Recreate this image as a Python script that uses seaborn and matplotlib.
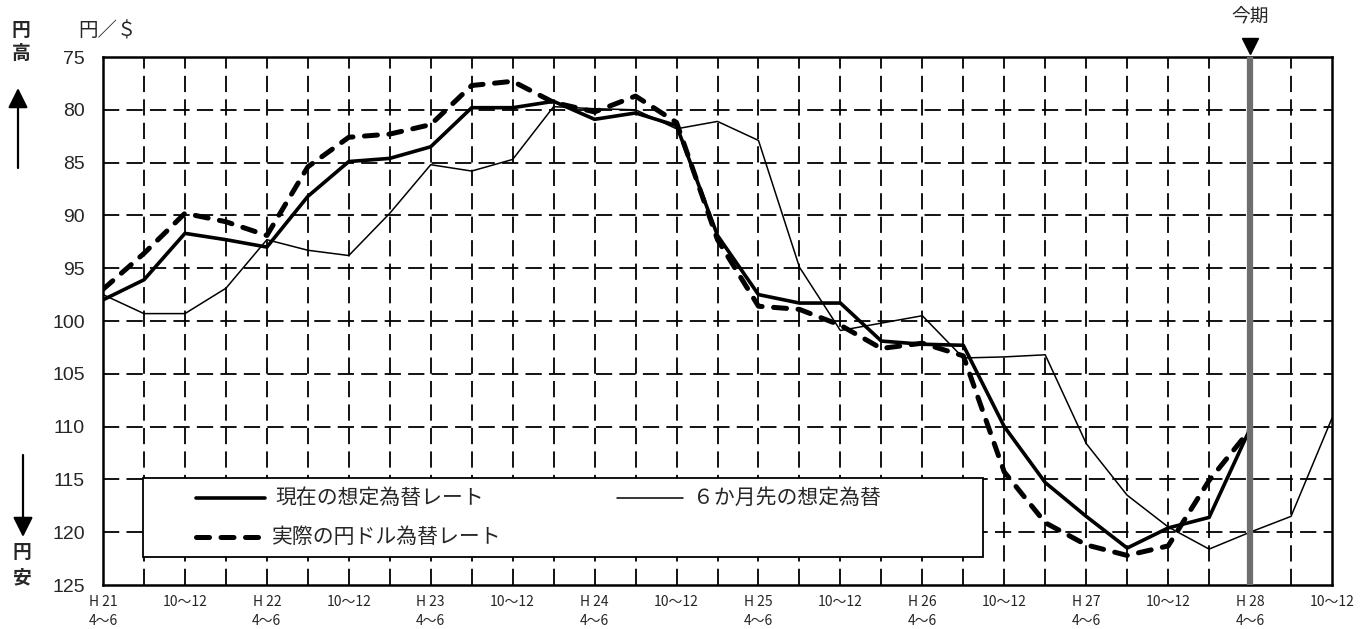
import numpy as np
import pandas as pd
import matplotlib
matplotlib.use("Agg")
import matplotlib.pyplot as plt
from matplotlib.patches import Rectangle, FancyArrowPatch
import seaborn as sns

sns.set_style("white")
plt.rcParams['font.family'] = ['Noto Sans CJK JP', 'DejaVu Sans']

# quarters H21 4~6 .. H28 10~12
quarters = list(range(31))
tick_pos = list(range(0, 31, 2))
tick_labels = []
for k, p in enumerate(tick_pos):
    if k % 2 == 0:
        tick_labels.append("H %d\n4～6" % (21 + k // 2))
    else:
        tick_labels.append("10～12")

# 現在の想定為替レート
current = [98.0, 96.1, 91.7, 92.3, 93.0, 88.2, 84.9, 84.6, 83.5, 79.8,
           79.8, 79.2, 80.9, 80.3, 81.5, 91.9, 97.5, 98.3, 98.3, 101.9,
           102.2, 102.3, 110.0, 115.3, 118.5, 121.5, 119.6, 118.6, 110.2]
# 実際の円ドル為替レート
actual = [97.0, 93.6, 89.8, 90.6, 91.9, 85.4, 82.6, 82.3, 81.4, 77.7,
          77.3, 79.3, 80.2, 78.7, 81.2, 92.3, 98.6, 98.9, 100.4, 102.6,
          102.1, 103.3, 114.3, 119.1, 121.2, 122.2, 121.3, 115.1, 110.3]
# ６か月先の想定為替
ahead = [97.5, 99.3, 99.3, 96.9, 92.3, 93.3, 93.8, 89.8, 85.2, 85.8,
         84.7, 79.7, 79.9, 80.0, 81.8, 81.1, 82.9, 94.9, 100.9, 100.2,
         99.5, 103.5, 103.4, 103.2, 111.6, 116.5, 119.5, 121.6, 120.0,
         118.5, 109.2]
current_idx = 28

lab_cur = "現在の想定為替レート"
lab_act = "実際の円ドル為替レート"
lab_ahd = "６か月先の想定為替"

df_cur = pd.DataFrame({"q": quarters[:len(current)], "v": current})
df_act = pd.DataFrame({"q": quarters[:len(actual)], "v": actual})
df_ahd = pd.DataFrame({"q": quarters[:len(ahead)], "v": ahead})

W, H = 1370, 629
fig = plt.figure(figsize=(13.7, 6.29), dpi=100)
ax = fig.add_axes([103/W, 1-585/H, 1229/W, 528/H])

def P(px, py):
    # pixel position -> axes fraction
    return (px - 103) / 1229, (585 - py) / 528

sty_ahd = dict(color="black", lw=1.1)
sty_cur = dict(color="black", lw=2.6)
sty_act = dict(color="black", lw=3.6, linestyle=(0, (2.6, 2.3)),
               dash_capstyle="round")

sns.lineplot(data=df_ahd, x="q", y="v", ax=ax, zorder=4, legend=False, **sty_ahd)
sns.lineplot(data=df_cur, x="q", y="v", ax=ax, zorder=5, legend=False, **sty_cur)
sns.lineplot(data=df_act, x="q", y="v", ax=ax, zorder=6, legend=False, **sty_act)

ax.set_xlim(0, 30)
ax.set_ylim(125, 75)
ax.set_yticks(np.arange(75, 126, 5))
ax.set_xticks(tick_pos)
ax.set_xticklabels(tick_labels, linespacing=1.5)
ax.set_xlabel("")
ax.set_ylabel("")

grid_ls = (0, (9, 4))
for yv in range(80, 125, 5):
    ax.axhline(yv, color="black", lw=1.3, ls=grid_ls, zorder=1)
for q in quarters[1:-1]:
    ax.axvline(q, color="black", lw=1.3, ls=grid_ls, zorder=1)

for s in ax.spines.values():
    s.set_color("black")
    s.set_linewidth(1.8)

ax.tick_params(axis="y", length=0, pad=13, labelsize=14)
ax.tick_params(axis="x", length=0, pad=7, labelsize=10)
for t in ax.get_yticklabels():
    t.set_family(['Liberation Sans Narrow', 'Liberation Sans'])
for t in ax.get_xticklabels():
    t.set_family(['Liberation Sans Narrow', 'Noto Sans CJK JP'])

# 今期
ax.axvline(current_idx, color="#6e6e6e", lw=4.5, zorder=7)
ax.plot([current_idx], [73.95], marker="v", color="black", markersize=12,
        clip_on=False, zorder=8)
ax.text(current_idx, 71.2, "今期", ha="center", va="center", fontsize=13.5,
        clip_on=False)

# legend box
x0, y0 = P(143, 557)
x1, y1 = P(983, 478)
ax.add_patch(Rectangle((x0, y0), x1 - x0, y1 - y0, transform=ax.transAxes,
                       facecolor="white", edgecolor="black", lw=1.3, zorder=3))
rows = [(lab_cur, sty_cur, 196, 265, 498), (lab_act, sty_act, 196, 262, 537),
        (lab_ahd, sty_ahd, 617, 683, 498)]
for lab, sty, hx0, hx1, hy in rows:
    a, b = P(hx0, hy)
    c, _ = P(hx1, hy)
    ax.plot([a, c], [b, b], transform=ax.transAxes, zorder=4, **sty)
    tx, _ = P(hx1 + 10, hy)
    ax.text(tx, b, lab, transform=ax.transAxes, ha="left", va="center",
            fontsize=15, zorder=4)

# side labels
fig.text(107/W, 1-31/H, "円／＄", ha="center", va="center", fontsize=14)
for txt, px, py in [("円", 21, 31), ("高", 21, 53), ("円", 22, 553), ("安", 22, 578)]:
    fig.text(px/W, 1-py/H, txt, ha="center", va="center", fontsize=13.5,
             fontweight="bold")
arr = "-|>,head_length=12,head_width=6"
fig.add_artist(FancyArrowPatch((18/W, 1-168/H), (18/W, 1-88/H),
               transform=fig.transFigure, arrowstyle=arr, color="black",
               lw=1.6, mutation_scale=1, shrinkA=0, shrinkB=0))
fig.add_artist(FancyArrowPatch((23/W, 1-455/H), (23/W, 1-537/H),
               transform=fig.transFigure, arrowstyle=arr, color="black",
               lw=1.6, mutation_scale=1, shrinkA=0, shrinkB=0))

fig.savefig("out.png", dpi=100)
